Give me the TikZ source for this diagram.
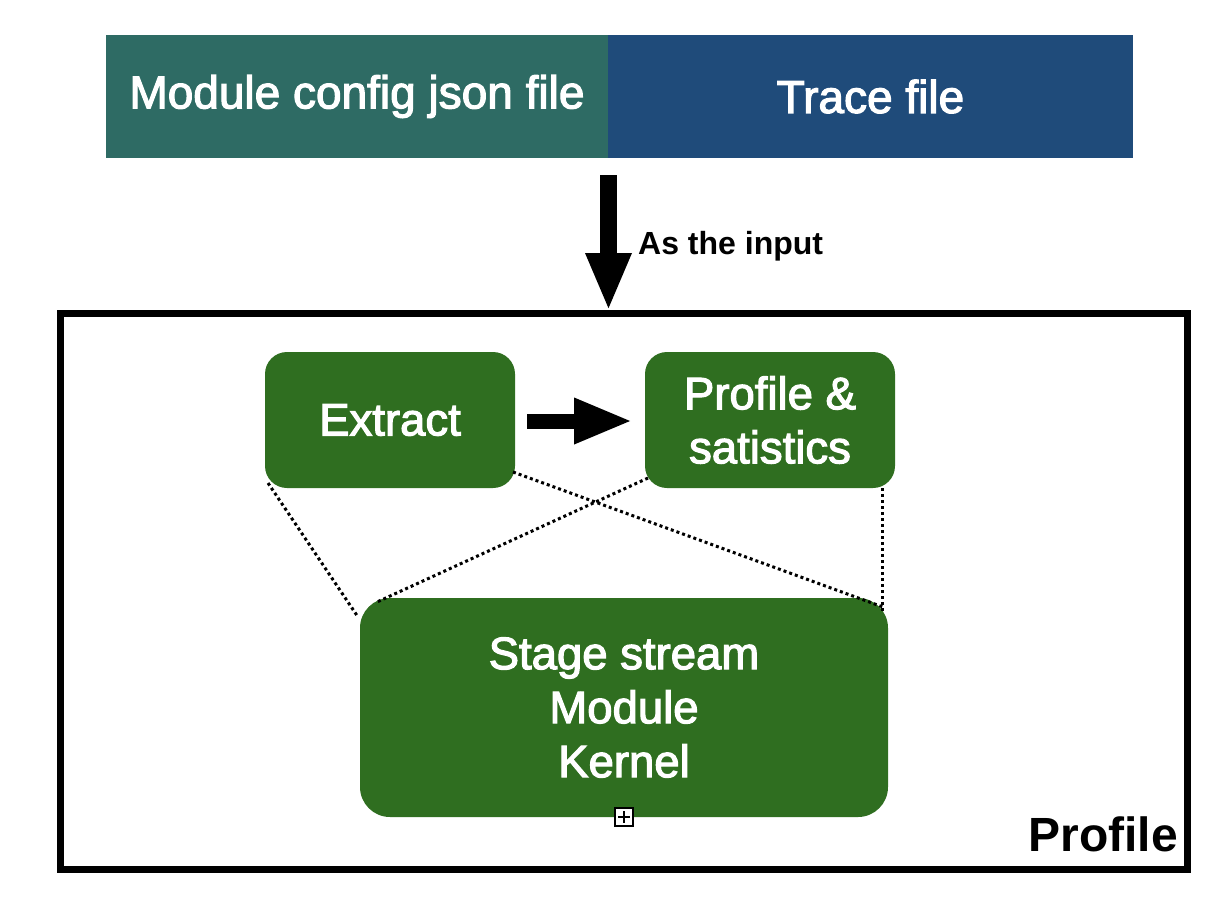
\documentclass[tikz,border=0pt]{standalone}
\usepackage{fontspec}
\setmainfont{Liberation Sans}
\newfontfamily\medfont{Liberation Sans}[FakeBold=2.5]
\usetikzlibrary{arrows.meta,calc}
\definecolor{tealbox}{RGB}{46,107,100}
\definecolor{bluebox}{RGB}{31,75,122}
\definecolor{greenbox}{RGB}{47,110,32}
\begin{document}
\begin{tikzpicture}[x=1pt,y=-1pt,
  topbox/.style={fill=#1, draw=none, text=white, inner sep=0pt, outer sep=0pt,
     minimum height=123pt, font=\medfont\fontsize{46}{55}\selectfont},
  greenrbox/.style={fill=greenbox, draw=none, text=white, inner sep=0pt, outer sep=0pt,
     rounded corners=22pt, align=center, font=\medfont\fontsize{45.5}{54}\selectfont},
  dotline/.style={line width=3pt, dash pattern=on 3pt off 3pt},
  bigarrow/.style={line width=#1, -{Triangle[length=58pt,width=42pt]}},
]
\useasboundingbox (0,0) rectangle (1218,900);
% top input boxes
\node[topbox=tealbox, minimum width=502pt] (cfg) at (357,96.5) {Module config json file};
\node[topbox=bluebox, minimum width=525pt] (trace) at (870.5,96.5) {Trace file};
% profile frame
\node[draw=black, line width=7pt, inner sep=0pt, outer sep=0pt,
      minimum width=1127pt, minimum height=556pt] (frame) at (623.5,591) {};
\node[anchor=base east, font=\bfseries\fontsize{48}{56}\selectfont, inner sep=0pt] (plabel) at (1178,851) {Profile};
% input arrow
\coordinate (arrtop) at ($(cfg.south east)+(0.5,17)$);
\coordinate (arrbot) at ($(cfg.south east)+(0.5,153)$);
\draw[bigarrow=17pt] (arrtop) -- (arrbot);
\node[anchor=base west, font=\bfseries\fontsize{32}{38}\selectfont, inner sep=0pt] (inlabel) at (638,254) {As the input};
% inner boxes
\node[greenrbox, minimum width=250pt, minimum height=136pt] (extract) at (390,420) {Extract};
\node[greenrbox, minimum width=250pt, minimum height=136pt] (prof) at (770,420) {Profile \&\\satistics};
\node[greenrbox, rounded corners=30pt, minimum width=528pt, minimum height=219pt] (stage) at (624,707.5) {Stage stream\\Module\\Kernel};
% arrow extract -> profile
\draw[line width=15pt, -{Triangle[length=59pt,width=42pt]}]
  ($(extract.east)+(12,1)$) -- ($(prof.west)+(-12,1)$);
% dotted connectors
\draw[dotline] ($(extract.south west)+(3,-5)$) -- ($(stage.north west)+(-2,19)$);
\draw[dotline] ($(extract.south east)+(-2,-16)$) -- ($(stage.north east)+(-5,9)$);
\draw[dotline] ($(prof.south west)+(3,-10)$) -- ($(stage.north west)+(17,4)$);
\draw[dotline] ($(prof.south east)+(-13,0)$) -- ($(stage.north east)+(-6,14)$);
% small expand marker
\node[draw=black, fill=white, line width=2.5pt, minimum size=18pt, inner sep=0pt] (marker) at (624,817) {};
\draw[line width=2pt] ($(marker.center)+(-6,0)$) -- ($(marker.center)+(6,0)$);
\draw[line width=2pt] ($(marker.center)+(0,-6)$) -- ($(marker.center)+(0,6)$);
\end{tikzpicture}
\end{document}
